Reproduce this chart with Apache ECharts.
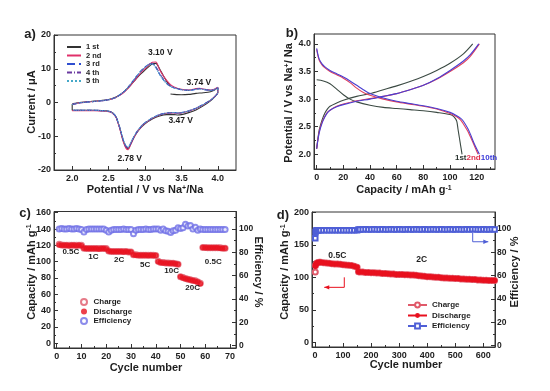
<!DOCTYPE html>
<html><head><meta charset="utf-8">
<script src="https://cdn.jsdelivr.net/npm/echarts@6/dist/echarts.min.js"></script>
<style>html,body{margin:0;padding:0;background:#fff}#c{width:550px;height:391px}</style>
</head><body><div id="c"></div>
<script>
// ---------- Panel a: cyclic voltammetry ----------
const cvUpV   = [2.0,2.1,2.2,2.3,2.4,2.5,2.6,2.65,2.7,2.75,2.8,2.85,2.9,2.95,3.0,3.05,3.1,3.15,3.2,3.25,3.3,3.35,3.4,3.5,3.6,3.7,3.75,3.8,3.9,3.95,4.0];
const cvDownV = [4.0,3.95,3.9,3.8,3.7,3.6,3.5,3.45,3.4,3.3,3.2,3.1,3.0,2.95,2.9,2.85,2.8,2.77,2.74,2.7,2.65,2.6,2.55,2.5,2.4,2.3,2.2,2.1,2.0];
const cyc1InitV = [3.35,3.4,3.5,3.6,3.7,3.8,3.9,3.95,4.0];
const cyc1InitI = [2.5,2.4,2.3,2.4,2.7,2.9,3.2,3.6,4.4];
const cyc1Down = [3.0,1.5,0.5,-1.0,-2.2,-3.0,-3.6,-3.7,-3.6,-3.6,-4.0,-4.9,-6.3,-7.3,-8.6,-10.3,-12.5,-13.6,-13.3,-11.3,-7.3,-4.2,-3.0,-2.6,-2.4,-2.3,-2.3,-2.3,-2.3];
const cyc1Up   = [-0.5,0,0.2,0.4,0.6,0.9,1.6,2.2,3.0,4.0,5.1,6.3,7.5,8.6,9.6,10.6,11.4,11.6,10.0,8.0,6.2,4.8];
const cyc2Up   = [-0.6,-0.1,0.1,0.3,0.5,0.8,1.5,2.1,2.8,3.8,5.0,6.3,7.7,9.0,10.0,11.0,11.9,12.0,9.8,8.0,6.5,5.3,4.6,3.9,3.7,4.1,4.2,4.0,3.7,3.9,4.5];
const cyc2Down = [3.0,1.6,0.7,-0.7,-1.8,-2.6,-3.1,-3.2,-3.1,-3.2,-3.7,-4.7,-6.2,-7.2,-8.5,-10.3,-12.6,-14.0,-13.6,-11.5,-7.5,-4.3,-3.1,-2.7,-2.5,-2.4,-2.4,-2.4,-2.4];
const cyc3Up   = [-0.6,-0.1,0.1,0.3,0.5,0.8,1.5,2.2,3.0,4.1,5.4,6.8,8.2,9.5,10.5,11.3,11.5,10.3,8.4,6.8,5.6,4.8,4.3,3.8,3.6,3.9,4.1,3.9,3.6,3.8,4.4];
const cyc3Down = [2.9,1.6,0.7,-0.6,-1.7,-2.5,-3.0,-3.1,-3.0,-3.1,-3.6,-4.6,-6.0,-7.0,-8.3,-10.0,-12.2,-13.2,-13.0,-11.0,-7.2,-4.2,-3.0,-2.6,-2.4,-2.3,-2.3,-2.3,-2.3];
const cyc4Up   = [-0.6,-0.1,0.1,0.3,0.5,0.8,1.5,2.2,3.0,4.0,5.3,6.7,8.1,9.4,10.4,11.3,11.6,10.6,8.7,7.0,5.7,4.9,4.4,3.8,3.6,4.0,4.1,3.9,3.6,3.8,4.4];
const cyc4Down = [2.9,1.6,0.7,-0.6,-1.7,-2.5,-3.0,-3.1,-3.0,-3.1,-3.6,-4.6,-6.0,-7.0,-8.4,-10.1,-12.3,-13.4,-13.1,-11.1,-7.3,-4.2,-3.0,-2.6,-2.4,-2.3,-2.3,-2.3,-2.3];
const cyc5Up   = [-0.6,-0.1,0.1,0.3,0.5,0.8,1.5,2.2,3.0,4.1,5.4,6.8,8.2,9.5,10.4,11.2,11.4,10.2,8.3,6.7,5.5,4.8,4.3,3.8,3.6,3.9,4.0,3.9,3.6,3.8,4.4];
const cyc5Down = [2.9,1.6,0.7,-0.6,-1.7,-2.5,-3.0,-3.1,-3.0,-3.1,-3.6,-4.6,-6.0,-7.0,-8.3,-10.0,-12.1,-13.1,-12.9,-10.9,-7.1,-4.1,-3.0,-2.6,-2.4,-2.3,-2.3,-2.3,-2.3];
const aXTicks = [2.0,2.5,3.0,3.5,4.0], aXMinor = [2.25,2.75,3.25,3.75];
const aYTicks = [-20,-10,0,10,20], aYMinor = [-15,-5,5,15];

// ---------- Panel b: charge/discharge profiles ----------
const b1ChgCap = [0,1,2,4,6,8,10,15,20,30,40,50,60,70,80,90,100,110,117];
const b1ChgV   = [2.1,2.3,2.45,2.62,2.74,2.82,2.87,2.93,2.98,3.05,3.1,3.17,3.24,3.32,3.41,3.52,3.65,3.82,4.0];
const b1DisCap = [0,5,10,15,20,25,30,40,50,60,70,80,90,100,103,105,106,107,108,109];
const b1DisV   = [3.35,3.33,3.28,3.18,3.08,3.0,2.95,2.89,2.85,2.83,2.81,2.79,2.76,2.72,2.68,2.6,2.45,2.3,2.15,2.0];
const b2ChgCap = [0,1,2,4,6,8,10,15,20,30,40,50,60,70,80,90,100,110,115,122];
const b2ChgV   = [2.1,2.28,2.42,2.58,2.68,2.76,2.8,2.87,2.91,2.97,3.01,3.05,3.1,3.17,3.25,3.36,3.5,3.66,3.77,4.0];
const b2DisCap = [0,1,2,4,6,10,15,20,25,30,35,40,50,60,70,80,90,100,105,108,110,113,115,118,121];
const b2DisV   = [3.9,3.78,3.7,3.62,3.57,3.5,3.44,3.38,3.3,3.2,3.12,3.07,3.0,2.95,2.91,2.87,2.82,2.74,2.68,2.62,2.55,2.43,2.33,2.17,2.0];
const b10ChgCap = [0,1,2,4,6,8,10,15,20,30,40,50,60,70,80,90,100,110,115,121.5];
const b10ChgV   = [2.1,2.27,2.4,2.56,2.67,2.75,2.8,2.86,2.9,2.96,3.0,3.05,3.1,3.17,3.25,3.37,3.52,3.69,3.8,4.0];
const b10DisCap = [0,1,2,4,6,10,15,20,25,30,35,40,50,60,70,80,90,100,105,108,110,113,115,118,122];
const b10DisV   = [3.92,3.8,3.72,3.64,3.59,3.52,3.46,3.4,3.33,3.25,3.17,3.1,3.02,2.96,2.92,2.88,2.83,2.76,2.7,2.65,2.6,2.48,2.38,2.2,2.0];
const bXTicks = [0,20,40,60,80,100,120], bXMinor = [10,30,50,70,90,110,130];
const bYTicks = [2.0,2.5,3.0,3.5,4.0], bYMinor = [2.25,2.75,3.25,3.75];

// ---------- Panel c: rate capability ----------
const cCycle = [1,2,3,4,5,6,7,8,9,10,11,12,13,14,15,16,17,18,19,20,21,22,23,24,25,26,27,28,29,30,31,32,33,34,35,36,37,38,39,40,41,42,43,44,45,46,47,48,49,50,51,52,53,54,55,56,57,58,59,60,61,62,63,64,65,66,67,68];
const cDischarge = [120.5,120,120,120,119.5,120,120,119.5,120,119.5,
  116.5,116,116,116,116,116,115.5,116,116,115.5,
  113,112.5,112.5,112.5,112.5,112.5,112,112.5,112,112,
  108.5,108,108,108,108,108,107.5,108,107.5,107.5,
  100,99,98.5,98.5,98,98,98,97.5,97,
  81.5,80,79,78.5,77.5,77,76,75,73,
  117.5,117,117,117,117,117,117,116.5,116.5,116.5];
const cCharge = [121.5,120.5,120,120,120,120,120,120,120,120,
  116.5,116,116,116,116,116,116,116,116,116,
  113,112.5,112.5,112.5,112.5,112.5,112.5,112.5,112,112,
  108.5,108.5,108,108,108,108,108,108,108,107.5,
  100.5,99,99,98.5,98.5,98,98,97.5,97,
  81.5,80.5,79.5,78.5,78,77,76.5,75,73.5,
  117.5,117.5,117,117,117,117,117,117,116.5,116.5];
const cEff = [100,100.5,100,100,100.5,100,100,100.5,100,99.5,
  97.5,99.5,100,100,100,100,100,100,100,99,
  97.5,99,99.5,99.5,99.5,99.5,100,99.5,99.5,99.5,
  96,99,99.5,99.5,99.5,100,99.5,99.5,100,100,
  100,99,100,98.5,98,97,98.5,99,101,
  100.5,101,104,102.5,103,100,101.5,99,100,
  99.5,99.5,99.5,99.5,99.5,99.5,99.5,99.5,99.5,99.5];
const cXTicks = [0,10,20,30,40,50,60,70], cXMinor = [5,15,25,35,45,55,65];
const cYTicks = [0,20,40,60,80,100,120,140,160], cYMinor = [10,30,50,70,90,110,130,150];
const cRTicks = [0,20,40,60,80,100], cRMinor = [10,30,50,70,90,110];
const cRates = ['0.5C','1C','2C','5C','10C','20C','0.5C'];
const cRateX = [5.7,14.8,25.2,35.7,46.4,54.9,63.2];
const cRateY = [111.5,106,102,96,89,67.4,100];

// ---------- Panel d: long cycling ----------
const dCycle = [1,2,4,6,8,10,15,20,30,40,50,60,70,80,90,100,110,120,130,140,150,155,
  160,170,180,190,200,210,220,230,240,250,260,270,280,290,300,310,320,330,340,350,360,370,380,390,400,
  410,420,430,440,450,460,470,480,490,500,510,520,530,540,550,560,570,580,590,600,610,620,630,640];
const dDischarge = [117,119.5,120.5,121.5,122,122.5,123,123,122.5,122,121.5,121,120.5,120.5,120,119.5,119,118.5,118,117,115.5,108.5,
  108,108,107.5,107.5,107,107,106.5,106.5,106,106,105.5,105,105,104.5,104.5,104.5,104,104,103.5,103.5,103,102.5,102,101.5,101,
  101,100.5,100,100,99.5,99,99,98.5,98.5,98,98,97.5,97.5,97,97,96.5,96.5,96,96,95.5,95.5,95,95,95];
const dCharge = [108,118,120.5,121.5,122,122.5,123,123,122.5,122,121.5,121,120.5,120.5,120,119.5,119,118.5,118,117,115.5,108.5,
  108,108,107.5,107.5,107,107,106.5,106.5,106,106,105.5,105,105,104.5,104.5,104.5,104,104,103.5,103.5,103,102.5,102,101.5,101,
  101,100.5,100,100,99.5,99,99,98.5,98.5,98,98,97.5,97.5,97,97,96.5,96.5,96,96,95.5,95.5,95,95,95];
const dEff = [92,97.5,98.5,99,99,99,99,99,99,99,99,99,99,99,99,99,99,99,99,99,99,99.5,
  99.7,99.7,99.8,99.7,99.7,99.8,99.7,99.7,99.8,99.7,99.7,99.8,99.7,99.7,99.8,99.7,99.7,99.8,99.7,99.7,99.8,99.7,99.7,99.8,99.7,
  99.7,99.8,99.7,99.7,99.8,99.7,99.7,99.8,99.7,99.7,99.8,99.7,99.7,99.8,99.7,99.9,99.8,99.7,99.7,99.8,99.7,99.7,99.8,99.7];
const dXTicks = [0,100,200,300,400,500,600], dXMinor = [50,150,250,350,450,550];
const dYTicks = [0,50,100,150,200], dYMinor = [25,75,125,175];
const dRTicks = [0,20,40,60,80,100], dRMinor = [10,30,50,70,90,110];

// ---------- helpers ----------
const FONT = '"Liberation Sans", Arial, Helvetica, sans-serif';
const INK = '#1e1e1e';
function zip(xs, ys) { const out = []; for (let i = 0; i < ys.length; i++) out.push([xs[i], ys[i]]); return out; }
function mainAxis(gi, min, max, ticks, dec, pos, margin, fs) {
  return {
    type: 'value', gridIndex: gi, min: min, max: max, position: pos,
    axisLine: { show: true, onZero: false, lineStyle: { color: '#333', width: 1 } },
    axisTick: { show: true, inside: true, length: 4, customValues: ticks, lineStyle: { color: '#333', width: 1 } },
    axisLabel: { show: true, customValues: ticks, margin: margin, formatter: v => Number(v).toFixed(dec),
      fontSize: fs || 9, fontWeight: 'bold', color: INK, fontFamily: FONT },
    splitLine: { show: false }
  };
}
function minorAxis(gi, min, max, ticks, pos) {
  return {
    type: 'value', gridIndex: gi, min: min, max: max, position: pos,
    axisLine: { show: false, onZero: false },
    axisTick: { show: true, inside: true, length: 2, customValues: ticks, lineStyle: { color: '#333', width: 1 } },
    axisLabel: { show: false }, splitLine: { show: false }
  };
}
const gridBox = { show: true, borderColor: '#333', borderWidth: 1, backgroundColor: 'transparent' };

const xAxis = [
  mainAxis(0, 1.75, 4.25, aXTicks, 1, 'bottom', 4), minorAxis(0, 1.75, 4.25, aXMinor, 'bottom'),
  mainAxis(1, -2, 133.7, bXTicks, 0, 'bottom', 4), minorAxis(1, -2, 133.7, bXMinor, 'bottom'),
  mainAxis(2, -1.1, 72.4, cXTicks, 0, 'bottom', 4), minorAxis(2, -1.1, 72.4, cXMinor, 'bottom'),
  mainAxis(3, -10.7, 641.5, dXTicks, 0, 'bottom', 4), minorAxis(3, -10.7, 641.5, dXMinor, 'bottom')
];
const yAxis = [
  mainAxis(0, -20, 20, aYTicks, 0, 'left', 3), minorAxis(0, -20, 20, aYMinor, 'left'),
  mainAxis(1, 1.734, 4.18, bYTicks, 1, 'left', 3), minorAxis(1, 1.734, 4.18, bYMinor, 'left'),
  mainAxis(2, -5.8, 161.5, cYTicks, 0, 'left', 3), minorAxis(2, -5.8, 161.5, cYMinor, 'left'),
  mainAxis(2, -2, 115, cRTicks, 0, 'right', 3, 8.5), minorAxis(2, -2, 115, cRMinor, 'right'),
  mainAxis(3, -7.2, 200.5, dYTicks, 0, 'left', 3), minorAxis(3, -7.2, 200.5, dYMinor, 'left'),
  mainAxis(3, -1.1, 114.6, dRTicks, 0, 'right', 2, 8.5), minorAxis(3, -1.1, 114.6, dRMinor, 'right')
];

function cvLine(name, data, color, type) {
  return { type: 'line', name: name, xAxisIndex: 0, yAxisIndex: 0, data: data, smooth: 0.25, symbol: 'none',
    lineStyle: { color: color, width: 1.1, type: type }, itemStyle: { color: color } };
}
const cyc1Data = zip(cyc1InitV, cyc1InitI).concat(zip(cvDownV, cyc1Down), zip(cvUpV, cyc1Up));
const cycData = (up, down) => zip(cvUpV, up).concat(zip(cvDownV, down));

function bLine(name, cap, v, color) {
  return { type: 'line', name: name, xAxisIndex: 2, yAxisIndex: 2, data: zip(cap, v), smooth: 0.3, symbol: 'none',
    lineStyle: { color: color, width: 1.1 } };
}
const RED = '#e8101e', BLUE_C = '#6f6fe6', BLUE_D = '#4f5fd6';

const series = [
  cvLine('1 st', cyc1Data, '#333333', 'solid'),
  cvLine('2 nd', cycData(cyc2Up, cyc2Down), '#e0306a', 'solid'),
  cvLine('3 rd', cycData(cyc3Up, cyc3Down), '#2f4fd0', 'dashed'),
  cvLine('4 th', cycData(cyc4Up, cyc4Down), '#6a3aa0', [5, 2, 1, 2]),
  cvLine('5 th', cycData(cyc5Up, cyc5Down), '#45a8c8', 'dotted'),
  bLine('b1c', b1ChgCap, b1ChgV, '#3b4a43'), bLine('b1d', b1DisCap, b1DisV, '#3b4a43'),
  bLine('b2c', b2ChgCap, b2ChgV, '#e0405e'), bLine('b2d', b2DisCap, b2DisV, '#e0405e'),
  bLine('b10c', b10ChgCap, b10ChgV, '#4a3ed0'), bLine('b10d', b10DisCap, b10DisV, '#4a3ed0'),
  { type: 'scatter', name: 'c:Efficiency', xAxisIndex: 4, yAxisIndex: 6, data: zip(cCycle, cEff), symbol: 'emptyCircle', symbolSize: 5,
    itemStyle: { color: BLUE_C, borderWidth: 1 } },
  { type: 'scatter', name: 'c:Charge', xAxisIndex: 4, yAxisIndex: 4, data: zip(cCycle, cCharge), symbol: 'emptyCircle', symbolSize: 5,
    itemStyle: { color: '#e05a6a', borderWidth: 1 } },
  { type: 'scatter', name: 'c:Discharge', xAxisIndex: 4, yAxisIndex: 4, data: zip(cCycle, cDischarge), symbol: 'circle', symbolSize: 5.5,
    itemStyle: { color: RED } },
  { type: 'line', name: 'd:Efficiency', xAxisIndex: 6, yAxisIndex: 10, data: zip(dCycle, dEff), symbol: 'emptyRect', symbolSize: 4.5,
    showAllSymbol: true, lineStyle: { color: BLUE_D, width: 1 }, itemStyle: { color: BLUE_D, borderWidth: 1 } },
  { type: 'line', name: 'd:Charge', xAxisIndex: 6, yAxisIndex: 8, data: zip(dCycle, dCharge), symbol: 'emptyCircle', symbolSize: 5,
    showAllSymbol: true, lineStyle: { color: '#e05a6a', width: 1 }, itemStyle: { color: '#e05a6a', borderWidth: 1 } },
  { type: 'line', name: 'd:Discharge', xAxisIndex: 6, yAxisIndex: 8, data: zip(dCycle, dDischarge), symbol: 'circle', symbolSize: 5.5,
    showAllSymbol: true, lineStyle: { color: RED, width: 1 }, itemStyle: { color: RED } }
];

const legTxt = (fs, lh) => ({ fontSize: fs, fontWeight: 'bold', color: INK, fontFamily: FONT, lineHeight: lh });
const option = {
  animation: false,
  backgroundColor: '#ffffff',
  grid: [
    Object.assign({ left: 54, top: 35, width: 182, height: 135 }, gridBox),
    Object.assign({ left: 314, top: 34, width: 181, height: 135 }, gridBox),
    Object.assign({ left: 54, top: 211.5, width: 182, height: 136.5 }, gridBox),
    Object.assign({ left: 312, top: 212, width: 183, height: 135 }, gridBox)
  ],
  xAxis: xAxis, yAxis: yAxis, series: series,
  legend: [
    { left: 66, top: 43, orient: 'vertical', padding: 0, itemGap: 0.5, itemWidth: 14, itemHeight: 7, selectedMode: false,
      itemStyle: { opacity: 0 },
      data: ['1 st', '2 nd', '3 rd', '4 th', '5 th'], textStyle: legTxt(7.5, 7.5) },
    { left: 80, top: 298, orient: 'vertical', padding: 0, itemGap: 1.5, itemWidth: 9, itemHeight: 6, selectedMode: false,
      data: ['c:Charge', 'c:Discharge', 'c:Efficiency'], formatter: n => n.slice(2), textStyle: legTxt(8, 8) },
    { left: 407, top: 301, orient: 'vertical', padding: 0, itemGap: 2.5, itemWidth: 19, itemHeight: 6, selectedMode: false,
      data: ['d:Charge', 'd:Discharge', 'd:Efficiency'], formatter: n => n.slice(2), textStyle: legTxt(8, 8) }
  ]
};

const chart = echarts.init(document.getElementById('c'), null, { renderer: 'canvas' });
chart.setOption(option);

// ---------- text & annotations ----------
function T(x, y, text, size, rot, rich) {
  const st = { text: text, fontSize: size, fontWeight: 'bold', fontFamily: FONT, fill: INK, align: 'center', verticalAlign: 'middle' };
  if (rich) st.rich = rich;
  return { type: 'text', x: x, y: y, rotation: rot || 0, style: st, z: 100 };
}
function richSup(base) {
  return {
    n: { fontSize: base, fontWeight: 'bold', fontFamily: FONT, fill: INK },
    s: { fontSize: Math.round(base * 0.62), fontWeight: 'bold', fontFamily: FONT, fill: INK, verticalAlign: 'top', padding: [0, 0, 4, 0] }
  };
}
const P = (si, x, y) => chart.convertToPixel({ seriesIndex: si }, [x, y]);
const g = [];
// panel letters
g.push(T(30, 34, 'a)', 13), T(292, 33, 'b)', 13), T(25, 213, 'c)', 13), T(283, 215, 'd)', 13));
// axis titles
const AT = 11;
g.push(T(145, 190, '{n|Potential / V vs Na}{s|+}{n|/Na}', AT, 0, richSup(AT)));
g.push(T(31.5, 102, '{n|Current / μA}', AT, Math.PI / 2, richSup(AT)));
g.push(T(404, 190, '{n|Capacity / mAh g}{s|-1}', AT, 0, richSup(AT)));
g.push(T(289, 103, '{n|Potential / V vs Na}{s|+}{n|/ Na}', AT, Math.PI / 2, richSup(AT)));
g.push(T(146, 368, 'Cycle number', AT));
g.push(T(31.5, 272, '{n|Capacity / mAh g}{s|-1}', AT, Math.PI / 2, richSup(AT)));
g.push(T(258, 272, 'Efficiency / %', AT, -Math.PI / 2));
g.push(T(406, 365, 'Cycle number', AT));
g.push(T(285, 272, '{n|Capacity / mAh g}{s|-1}', AT, Math.PI / 2, richSup(AT)));
g.push(T(515, 272, 'Efficiency / %', AT, Math.PI / 2));
// panel a peak labels
const aNotes = [['3.10 V', 3.21, 14.7], ['3.74 V', 3.74, 5.8], ['3.47 V', 3.49, -5.5], ['2.78 V', 2.79, -16.5]];
aNotes.forEach(n => { const p = P(0, n[1], n[2]); g.push(T(p[0], p[1], n[0], 8.5)); });
// panel b cycle labels
{
  const p = P(5, 119.5, 1.94);
  g.push(T(p[0], p[1], '{k|1st}{r|2nd}{b|10th}', 8, 0, {
    k: { fontSize: 8, fontWeight: 'bold', fontFamily: FONT, fill: '#2a332e' },
    r: { fontSize: 8, fontWeight: 'bold', fontFamily: FONT, fill: '#e0304e' },
    b: { fontSize: 8, fontWeight: 'bold', fontFamily: FONT, fill: '#3a3ad8' }
  }));
}
// panel c rate labels
cRates.forEach((r, i) => { const p = P(12, cRateX[i], cRateY[i]); g.push(T(p[0], p[1], r, 8)); });
// panel d rate labels
[['0.5C', 79.5, 132.8], ['2C', 380, 126.6]].forEach(n => { const p = P(16, n[1], n[2]); g.push(T(p[0], p[1], n[0], 8.5)); });
// panel d arrows
function arrow(pts, color, dir) {
  g.push({ type: 'polyline', shape: { points: pts }, style: { stroke: color, lineWidth: 1, fill: null }, z: 100 });
  const e = pts[pts.length - 1];
  const s = dir < 0 ? 1 : -1;
  g.push({ type: 'polygon', shape: { points: [[e[0], e[1]], [e[0] + s * 5, e[1] - 2.2], [e[0] + s * 5, e[1] + 2.2]] },
    style: { fill: color }, z: 100 });
}
arrow([P(16, 104.4, 100), P(16, 104.4, 84.6), P(16, 33, 84.6)], RED, -1);
arrow([P(14, 562, 96.6), P(14, 562, 89.1), P(14, 617.6, 89.1)], BLUE_D, 1);

chart.setOption({ graphic: g });
</script>
</body></html>
